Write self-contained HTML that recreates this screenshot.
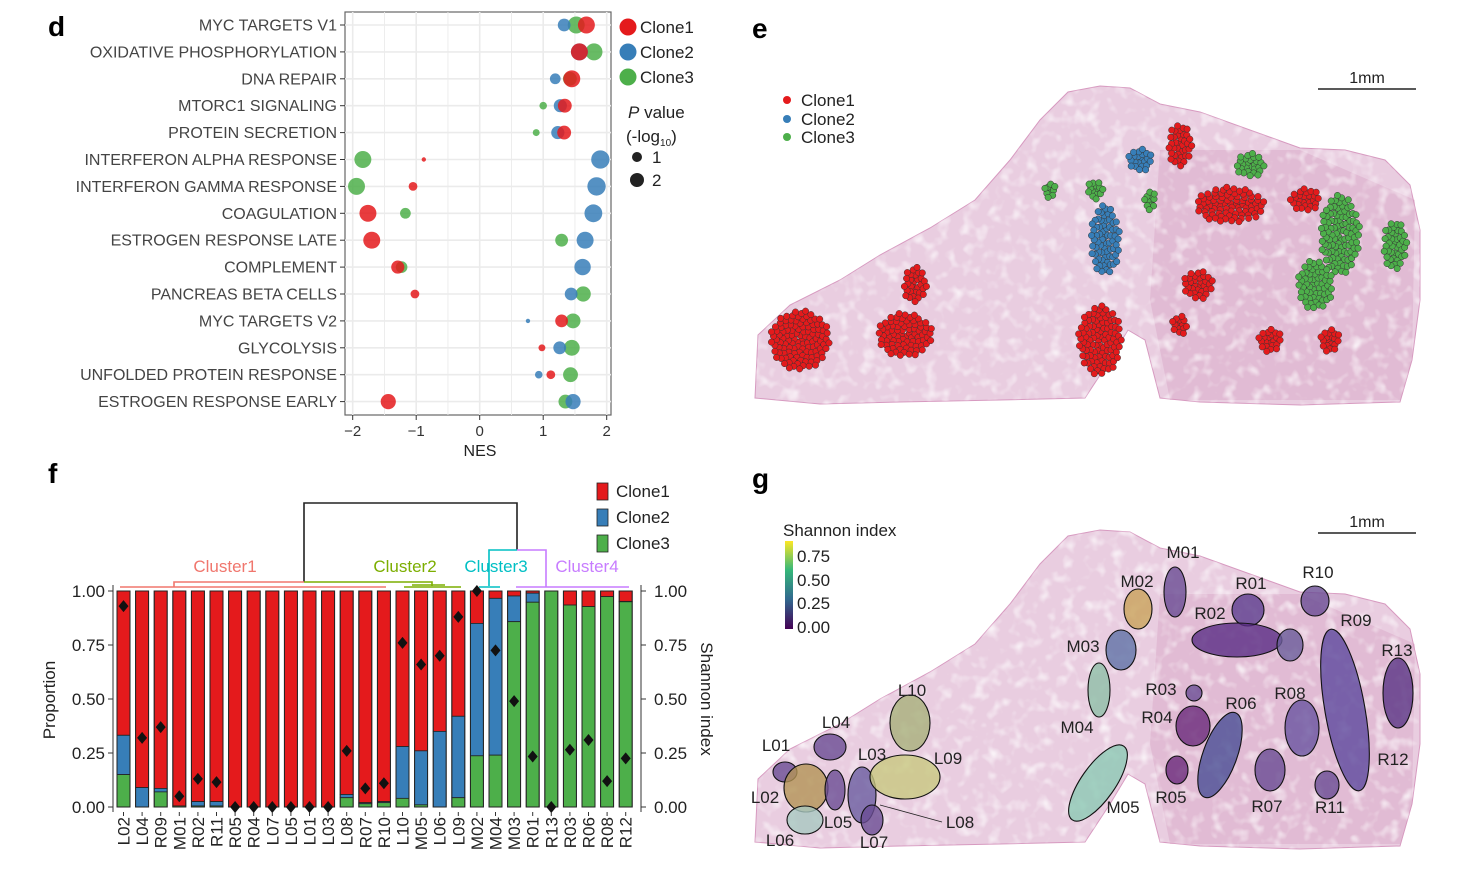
<!DOCTYPE html>
<html><head><meta charset="utf-8"><style>
html,body{margin:0;padding:0;background:#fff;width:1463px;height:882px;overflow:hidden}
svg{display:block;font-family:"Liberation Sans",sans-serif}
</style></head><body>
<svg id="fig" width="1463" height="882" viewBox="0 0 1463 882" xmlns="http://www.w3.org/2000/svg">
<defs>
<linearGradient id="vir" x1="0" y1="0" x2="0" y2="1">
<stop offset="0" stop-color="#fde725"/><stop offset="0.33" stop-color="#35b779"/><stop offset="0.66" stop-color="#31688e"/><stop offset="1" stop-color="#440154"/>
</linearGradient>
<filter id="tex"><feTurbulence type="fractalNoise" baseFrequency="0.08" numOctaves="2" seed="3"/><feColorMatrix values="0 0 0 0 1  0 0 0 0 1  0 0 0 0 1  0 0 0 2.2 -1.1"/><feComposite in2="SourceGraphic" operator="in"/></filter>
</defs>
<text x="48" y="36" font-size="28" font-weight="bold">d</text>
<text x="752" y="38" font-size="28" font-weight="bold">e</text>
<text x="48" y="483" font-size="28" font-weight="bold">f</text>
<text x="752" y="488" font-size="28" font-weight="bold">g</text>
<g id="pd"></g>
<g id="pe"></g>
<g id="pf"></g>
<g id="pg"></g>
</svg>
<script>
// ---------- Panel d data ----------
const pathways = ["MYC TARGETS V1","OXIDATIVE PHOSPHORYLATION","DNA REPAIR","MTORC1 SIGNALING","PROTEIN SECRETION","INTERFERON ALPHA RESPONSE","INTERFERON GAMMA RESPONSE","COAGULATION","ESTROGEN RESPONSE LATE","COMPLEMENT","PANCREAS BETA CELLS","MYC TARGETS V2","GLYCOLYSIS","UNFOLDED PROTEIN RESPONSE","ESTROGEN RESPONSE EARLY"];
const nesClone1 = [1.68,1.57,1.45,1.34,1.33,-0.88,-1.05,-1.76,-1.70,-1.29,-1.02,1.29,0.98,1.12,-1.44];
const nesClone2 = [1.33,1.57,1.19,1.27,1.23,1.90,1.84,1.79,1.66,1.62,1.44,0.76,1.26,0.93,1.47];
const nesClone3 = [1.52,1.80,1.42,1.00,0.89,-1.84,-1.94,-1.17,1.29,-1.23,1.63,1.47,1.45,1.43,1.35];
const pClone1 = [3.0,3.0,3.0,2.0,2.0,0.2,0.8,3.0,3.0,1.8,0.8,1.7,0.5,0.8,2.4];
const pClone2 = [1.7,3.0,1.2,1.8,1.8,3.5,3.5,3.3,3.0,2.8,1.7,0.2,1.7,0.6,2.4];
const pClone3 = [3.0,3.0,2.0,0.6,0.5,3.0,3.0,1.2,1.7,1.4,2.4,2.3,2.6,2.3,2.0];
const nesTicks = [-2,-1,0,1,2];
// ---------- Panel f data ----------
const samples = ["L02","L04","R09","M01","R02","R11","R05","R04","L07","L05","L01","L03","L08","R07","R10","L10","M05","L06","L09","M02","M04","M03","R01","R13","R03","R06","R08","R12"];
const propClone3 = [0.15,0,0.07,0.005,0.005,0.005,0,0,0,0,0,0,0.043,0.015,0.02,0.04,0.01,0,0.043,0.237,0.24,0.858,0.948,1.0,0.935,0.928,0.974,0.95];
const propClone2 = [0.182,0.09,0.016,0,0.02,0.02,0,0,0,0,0,0,0.015,0.005,0.005,0.24,0.25,0.35,0.377,0.613,0.726,0.119,0.042,0,0,0,0,0.002];
const shannon = [0.93,0.32,0.37,0.05,0.13,0.115,0,0,0,0,0,0,0.26,0.086,0.11,0.76,0.66,0.70,0.88,1.0,0.725,0.49,0.234,0,0.265,0.31,0.12,0.225];
const propTicks = [0,0.25,0.5,0.75,1.0];

const NS="http://www.w3.org/2000/svg";
function mk(parent,tag,attrs,txt){const e=document.createElementNS(NS,tag);for(const k in attrs)e.setAttribute(k,attrs[k]);if(txt!==undefined)e.textContent=txt;parent.appendChild(e);return e;}
const C1="#e41a1c",C2="#377eb8",C3="#4daf4a";

// ---------- Panel d ----------
(function(){
const g=document.getElementById('pd');
const x=v=>479.7+v*63.5, y=i=>25+i*26.9, r=p=>4.9*Math.sqrt(p);
const bg=mk(g,'rect',{x:345,y:12,width:266,height:403,fill:'#fff',stroke:'#666','stroke-width':1.2});


for(let t=-2;t<=2;t+=0.5){mk(g,'line',{x1:x(t),x2:x(t),y1:12,y2:415,stroke:'#ebebeb','stroke-width':Number.isInteger(t)?1.6:0.9});}
pathways.forEach((p,i)=>{mk(g,'line',{x1:345,x2:611,y1:y(i),y2:y(i),stroke:'#ebebeb','stroke-width':1.6});
 mk(g,'line',{x1:340,x2:345,y1:y(i),y2:y(i),stroke:'#333'});
 const t=mk(g,'text',{x:337,y:y(i)+5.5,'text-anchor':'end','font-size':16,fill:'#444'},p);
 
 });
nesTicks.forEach(v=>{mk(g,'line',{x1:x(v),x2:x(v),y1:415,y2:420,stroke:'#333'});
 const t=mk(g,'text',{x:x(v),y:436,'text-anchor':'middle','font-size':15,fill:'#333'},v<0?'\u2212'+Math.abs(v):String(v));
 
 });
const xt=mk(g,'text',{x:480,y:456,'text-anchor':'middle','font-size':16,fill:'#222'},'NES');


[[nesClone3,pClone3,C3,'clone3'],[nesClone2,pClone2,C2,'clone2'],[nesClone1,pClone1,C1,'clone1']].forEach(([n,pv,c,nm])=>{
 n.forEach((v,i)=>{const d=mk(g,'circle',{cx:x(v),cy:y(i),r:r(pv[i]),fill:c,'fill-opacity':0.85});
 
 });});
[['Clone1',C1,27],['Clone2',C2,52],['Clone3',C3,77]].forEach(([l,c,yy])=>{
 const lg=mk(g,'g',{});
 
 
 mk(lg,'circle',{cx:628,cy:yy,r:8.5,fill:c});mk(lg,'text',{x:640,y:yy+6,'font-size':17,fill:'#222'},l);});
const pl=mk(g,'text',{x:628,y:118,'font-size':17,fill:'#222'});


mk(pl,'tspan',{'font-style':'italic'},'P');mk(pl,'tspan',{},' value');
const pl2=mk(g,'text',{x:626,y:142,'font-size':17,fill:'#222'});
mk(pl2,'tspan',{},'(-log');mk(pl2,'tspan',{'font-size':10,dy:4},'10');mk(pl2,'tspan',{dy:-4},')');
mk(g,'circle',{cx:637,cy:157,r:5,fill:'#222'});mk(g,'text',{x:652,y:163,'font-size':17,fill:'#222'},'1');
mk(g,'circle',{cx:637,cy:180,r:7,fill:'#222'});mk(g,'text',{x:652,y:186,'font-size':17,fill:'#222'},'2');
})();

// ---------- Tissue helper ----------
const tissuePts=[[755,398],[758,335],[790,305],[840,280],[880,255],[930,228],[975,200],[1010,160],[1040,120],[1068,92],[1100,86],[1130,88],[1160,104],[1200,112],[1250,130],[1300,148],[1345,150],[1385,160],[1410,185],[1420,230],[1420,300],[1412,360],[1400,402],[1300,405],[1200,402],[1160,398],[1145,340],[1128,330],[1110,360],[1085,398],[1000,400],[900,402],[820,404]];
function tissue(g,dy){
 const pts=tissuePts.map(p=>p[0]+','+(p[1]+dy)).join(' ');
 const t=mk(g,'polygon',{points:pts,fill:'#e9cde0',stroke:'#d79ac0','stroke-width':1});
 
 
 mk(g,'path',{d:`M1160 ${150+dy} L1300 ${150+dy} L1415 ${200+dy} L1412 ${360+dy} L1400 ${400+dy} L1170 ${400+dy} L1150 ${300+dy} Z`,fill:'#d49abd',opacity:0.35});
 mk(g,'polygon',{points:pts,fill:'#fff',filter:'url(#tex)',opacity:0.85});
 const sb=mk(g,'line',{x1:1318,x2:1416,y1:89+dy,y2:89+dy,stroke:'#222','stroke-width':1.6});
 
 
 mk(g,'text',{x:1367,y:83+dy,'text-anchor':'middle','font-size':16,fill:'#222'},'1mm');
}

// ---------- Panel e ----------
(function(){
const g=document.getElementById('pe');
tissue(g,0);
const clusters=[[800,340,30,30,C1],[905,335,28,22,C1],[915,285,12,18,C1],[1100,340,22,35,C1],[1180,145,12,22,C1],[1230,205,35,18,C1],[1305,200,15,12,C1],[1198,285,15,15,C1],[1270,340,12,12,C1],[1330,340,10,12,C1],[1180,325,8,10,C1],[1105,240,15,35,C2],[1140,160,12,12,C2],[1150,200,6,10,C3],[1250,165,15,12,C3],[1340,235,20,40,C3],[1315,285,18,25,C3],[1395,245,12,25,C3],[1050,190,6,8,C3],[1095,190,8,10,C3]];
clusters.forEach(([cx,cy,rx,ry,c],k)=>{
 const cg=mk(g,'g',{});
 
 
 const n=Math.round(rx*ry/8)+4;
 for(let j=0;j<n;j++){const a=j*2.39996+k, rr=Math.sqrt((j+0.5)/n);
  mk(cg,'circle',{cx:cx+Math.cos(a)*rx*rr,cy:cy+Math.sin(a)*ry*rr,r:3.2,fill:c,stroke:'#333','stroke-width':0.5});}
});
[['Clone1',C1,100],['Clone2',C2,119],['Clone3',C3,137]].forEach(([l,c,yy])=>{
 const lg=mk(g,'g',{});
 
 
 mk(lg,'circle',{cx:787,cy:yy,r:4,fill:c});mk(lg,'text',{x:801,y:yy+6,'font-size':17,fill:'#222'},l);});
})();

// ---------- Panel f ----------
(function(){
const g=document.getElementById('pf');
const y=v=>807-216*v, x=i=>117+i*18.6, w=13;
samples.forEach((s,i)=>{
 const b3=propClone3[i], b2=propClone2[i];
 const bar=mk(g,'g',{});
 
 
 mk(bar,'rect',{x:x(i),y:y(1),width:w,height:y(b3+b2)-y(1),fill:C1,stroke:'#222','stroke-width':0.8});
 if(b2>0)mk(bar,'rect',{x:x(i),y:y(b3+b2),width:w,height:y(b3)-y(b3+b2),fill:C2,stroke:'#222','stroke-width':0.8});
 if(b3>0)mk(bar,'rect',{x:x(i),y:y(b3),width:w,height:y(0)-y(b3),fill:C3,stroke:'#222','stroke-width':0.8});
 mk(bar,'rect',{x:x(i),y:y(1),width:w,height:216,fill:'none',stroke:'#222','stroke-width':1});
 const cx=x(i)+w/2, cy=y(shannon[i]);
 const d=mk(g,'polygon',{points:`${cx},${cy-6} ${cx+5},${cy} ${cx},${cy+6} ${cx-5},${cy}`,fill:'#111'});
 
 
 mk(g,'line',{x1:cx,x2:cx,y1:812,y2:816,stroke:'#333'});
 const t=mk(g,'text',{x:0,y:0,'font-size':17,fill:'#222','text-anchor':'end',transform:`translate(${cx+6},817) rotate(-90)`},s);
 
 
});
mk(g,'line',{x1:113,x2:113,y1:585,y2:812,stroke:'#333'});
mk(g,'line',{x1:641,x2:641,y1:585,y2:812,stroke:'#333'});
propTicks.forEach(v=>{
 mk(g,'line',{x1:108,x2:113,y1:y(v),y2:y(v),stroke:'#333'});
 mk(g,'line',{x1:641,x2:646,y1:y(v),y2:y(v),stroke:'#333'});
 const a=mk(g,'text',{x:105,y:y(v)+6,'text-anchor':'end','font-size':17,fill:'#222'},v.toFixed(2));
 
 
 const b=mk(g,'text',{x:654,y:y(v)+6,'font-size':17,fill:'#222'},v.toFixed(2));
 
 
});
const yt=mk(g,'text',{x:0,y:0,'font-size':17,fill:'#222','text-anchor':'middle',transform:'translate(55,700) rotate(-90)'},'Proportion');


const yt2=mk(g,'text',{x:0,y:0,'font-size':17,fill:'#222','text-anchor':'middle',transform:'translate(701,699) rotate(90)'},'Shannon index');


const dn=mk(g,'g',{fill:'none','stroke-width':1.6});


mk(dn,'path',{d:'M304 582 V503 H517 V550',stroke:'#222'});
mk(dn,'path',{d:'M120 587 H386 M174 587 V582 H304',stroke:'#f0766d'});
mk(dn,'path',{d:'M304 582 H432 V586 M404 587 H461 M412 585 H445',stroke:'#7cae00'});
mk(dn,'path',{d:'M489 586 V550 H517 M479 587 H500',stroke:'#00bfc4'});
mk(dn,'path',{d:'M517 550 H546 V587 M516 587 H629',stroke:'#c77cff'});
[['Cluster1',225,'#f0766d'],['Cluster2',405,'#7cae00'],['Cluster3',496,'#00bfc4'],['Cluster4',587,'#c77cff']].forEach(([l,cx,c])=>{
 const t=mk(g,'text',{x:cx,y:572,'text-anchor':'middle','font-size':17,fill:c},l);
 
 });
[['Clone1',C1,491],['Clone2',C2,517],['Clone3',C3,543]].forEach(([l,c,yy])=>{
 const lg=mk(g,'g',{});
 
 
 mk(lg,'rect',{x:597,y:yy-8,width:11,height:17,fill:c,stroke:'#222','stroke-width':0.8});mk(lg,'text',{x:616,y:yy+6,'font-size':17,fill:'#222'},l);});
})();

// ---------- Panel g ----------
(function(){
const g=document.getElementById('pg');
tissue(g,444);
const regions=[["M01",1175,592,11,25,0,"#6a4c93",1183,558],["M02",1138,609,14,20,0,"#c9a35a",1137,587],["M03",1121,650,15,20,0,"#5f72a6",1083,652],["M04",1099,690,11,27,0,"#8fbfa8",1077,733],["M05",1098,783,17,45,35,"#8cc9b4",1123,813],["R01",1248,610,16,16,0,"#5c3f8f",1251,589],["R02",1237,640,45,17,0,"#5a2d84",1210,619],["R10",1315,601,14,15,0,"#6a4c93",1318,578],["R09",1290,645,13,16,0,"#6a5c9a",1356,626],["R13",1398,693,15,35,0,"#5a3585",1397,656],["R03",1194,693,8,8,0,"#6a4c93",1161,695],["R04",1193,726,17,20,0,"#6a2a7a",1157,723],["R05",1177,770,11,14,0,"#6a2a7a",1171,803],["R06",1220,755,17,45,20,"#4a4f95",1241,709],["R08",1302,728,17,28,0,"#6a55a0",1290,699],["R07",1270,770,15,21,0,"#6a4c93",1267,812],["R11",1327,785,12,14,0,"#6a4c93",1330,813],["R12",1345,710,20,82,-10,"#5e4a9e",1393,765],["L10",910,723,20,28,0,"#a8b07a",912,696],["L04",830,747,16,13,0,"#6a4c93",836,728],["L01",785,772,12,10,0,"#6a4c93",776,751],["L02",806,788,22,24,0,"#b39355",765,803],["L03",862,795,14,28,0,"#6a5ca0",872,760],["L09",905,777,35,22,0,"#c8c880",948,764],["L05",835,790,10,20,0,"#6a4c93",838,828],["L06",805,820,18,14,0,"#a8c8c0",780,846],["L07",872,820,11,15,0,"#6a4c93",874,848]];
regions.forEach(([n,cx,cy,rx,ry,rot,c,lx,ly])=>{
 const e=mk(g,'ellipse',{cx,cy,rx,ry,fill:c,'fill-opacity':0.8,stroke:'#111','stroke-width':1.1,transform:`rotate(${rot} ${cx} ${cy})`});
 
 
 const t=mk(g,'text',{x:lx,y:ly,'text-anchor':'middle','font-size':17,fill:'#222'},n);
 
 
});
mk(g,'text',{x:960,y:828,'text-anchor':'middle','font-size':17,fill:'#222'},'L08');
mk(g,'line',{x1:880,y1:805,x2:942,y2:822,stroke:'#222','stroke-width':0.8});
const cb=mk(g,'rect',{x:785,y:541,width:8,height:88,fill:'url(#vir)'});


mk(g,'text',{x:783,y:536,'font-size':17,fill:'#222'},'Shannon index');
[['0.75',562],['0.50',586],['0.25',609],['0.00',633]].forEach(([l,yy])=>{
 const t=mk(g,'text',{x:797,y:yy,'font-size':17,fill:'#222'},l);
 
 });
})();
</script>
</body></html>
